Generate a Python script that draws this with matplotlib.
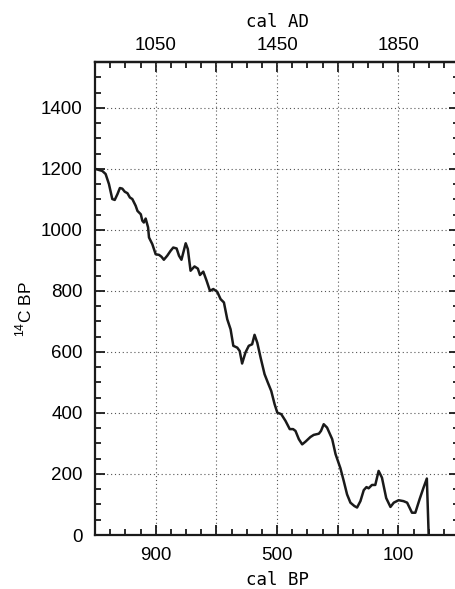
import numpy as np
import matplotlib.pyplot as plt
from matplotlib.ticker import MultipleLocator, FixedLocator, FuncFormatter

# calibration curve: calendar age (cal BP) vs radiocarbon age (14C BP)
cal_bp = [1100, 1076, 1065, 1054, 1043, 1035, 1026, 1018, 1010, 1002, 993, 985,
          977, 966, 960, 949, 944, 939, 933, 925, 922, 911, 900, 889, 881, 873,
          862, 851, 842, 831, 823, 815, 801, 794, 785, 772, 761, 754, 743, 732,
          721, 710, 697, 686, 675, 664, 653, 644, 631, 623, 615, 604, 593, 582,
          574, 565, 554, 541, 530, 519, 508, 499, 486, 472, 458, 447, 439, 428,
          417, 406, 390, 379, 362, 355, 346, 335, 318, 307, 291, 280, 269, 258,
          245, 236, 225, 214, 205, 198, 187, 176, 165, 154, 140, 126, 115, 99,
          83, 71, 55, 44, 30, 17, 6, 0]
c14_bp = [1200, 1193, 1183, 1150, 1101, 1098, 1117, 1137, 1135, 1125, 1120, 1106,
          1101, 1079, 1062, 1051, 1030, 1024, 1037, 1008, 975, 953, 920, 918, 912,
          902, 915, 931, 942, 939, 915, 902, 956, 937, 866, 880, 873, 852, 863, 833,
          800, 806, 797, 773, 762, 707, 674, 620, 614, 603, 562, 598, 620, 625,
          656, 630, 581, 527, 499, 472, 429, 401, 396, 374, 347, 347, 341, 314,
          297, 306, 321, 328, 332, 341, 363, 352, 314, 265, 219, 177, 133, 106,
          95, 90, 111, 147, 157, 153, 164, 164, 210, 188, 121, 92, 106, 114,
          111, 106, 73, 73, 117, 155, 185, 0]

bp_grid = [900, 700, 500, 300, 100]
bp_labels = [900, 500, 100]
ad_grid = [1050, 1250, 1450, 1650, 1850]
ad_labels = [1050, 1450, 1850]
y_ticks = [0, 200, 400, 600, 800, 1000, 1200, 1400]

plt.rcParams['font.family'] = ['Liberation Sans', 'DejaVu Sans']
plt.rcParams['mathtext.fontset'] = 'custom'
plt.rcParams['mathtext.rm'] = 'Liberation Sans'

fig = plt.figure(figsize=(4.55, 5.89), dpi=100)
ax = fig.add_axes([95 / 455, 1 - 535 / 589, 364 / 455, 473 / 589])

ax.plot(cal_bp, c14_bp, color='#1a1a1a', linewidth=1.8, solid_joinstyle='round')

ax.set_xlim(1100, -100)
ax.set_ylim(0, 1550)

# bottom axis: grid every 200 yr, labels every 400 yr
ax.xaxis.set_major_locator(FixedLocator(bp_grid))
ax.xaxis.set_minor_locator(MultipleLocator(50))
ax.xaxis.set_major_formatter(FuncFormatter(
    lambda v, p: f'{v:.0f}' if round(v) in bp_labels else ''))
ax.yaxis.set_major_locator(FixedLocator(y_ticks))
ax.yaxis.set_minor_locator(MultipleLocator(50))

ax.grid(True, which='major', linestyle=(0, (1, 2.5)), color='#555555', linewidth=0.8)

ax.tick_params(which='both', direction='in', top=False, right=True,
               width=1.3, color='#1a1a1a', labelsize=13.5)
ax.tick_params(axis='x', which='major', length=7, pad=9)
ax.tick_params(axis='x', which='minor', length=4)
ax.tick_params(axis='y', which='major', length=7, pad=9)
ax.tick_params(axis='y', which='minor', length=4)

for s in ax.spines.values():
    s.set_linewidth(1.6)
    s.set_color('#1a1a1a')

ax.set_xlabel('cal BP', family='DejaVu Sans Mono', fontsize=12.5, labelpad=5)

# top axis in calendar years AD
top = ax.secondary_xaxis('top', functions=(lambda b: 1950 - b, lambda a: 1950 - a))
top.xaxis.set_major_locator(FixedLocator(ad_grid))
top.xaxis.set_minor_locator(MultipleLocator(50))
top.xaxis.set_major_formatter(FuncFormatter(
    lambda v, p: f'{v:.0f}' if round(v) in ad_labels else ''))
top.tick_params(which='both', direction='in', width=1.3, color='#1a1a1a',
                labelsize=13.5)
top.tick_params(which='major', length=7, pad=6)
top.tick_params(which='minor', length=4)
top.spines['top'].set_linewidth(1.6)
top.set_xlabel('cal AD', family='DejaVu Sans Mono', fontsize=12.5, labelpad=7)

fig.text(24 / 455, 1 - 309 / 589, r'$^{14}$C BP', rotation=90, fontsize=12.5,
         ha='center', va='center')

fig.savefig('out.png', dpi=100)
